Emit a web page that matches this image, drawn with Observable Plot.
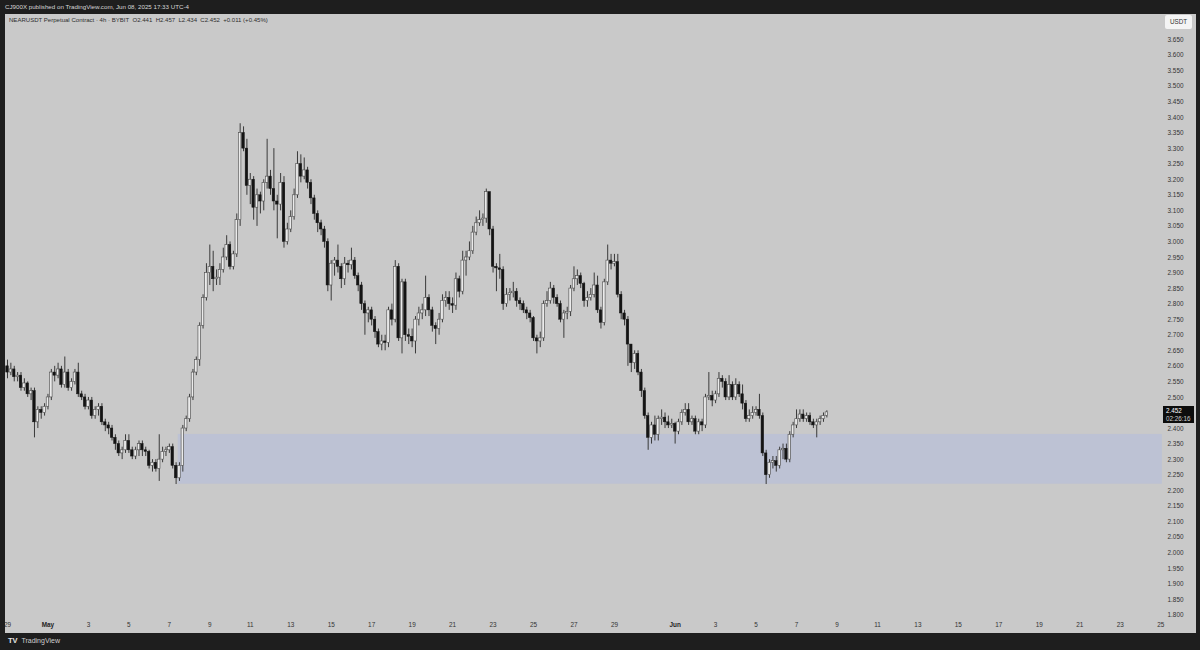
<!DOCTYPE html>
<html><head><meta charset="utf-8">
<script src="https://cdn.jsdelivr.net/npm/d3@7"></script>
<script src="https://cdn.jsdelivr.net/npm/@observablehq/plot@0.6"></script>
<style>
html,body{margin:0;padding:0;background:#1e1e1e;}
#wrap{position:relative;width:1200px;height:650px;background:#1e1e1e;overflow:hidden;font-family:"Liberation Sans",Arial,sans-serif;}
#top{position:absolute;left:5px;top:2.5px;color:#d6d6d6;font-size:6.2px;white-space:nowrap;}
#panel{position:absolute;left:5px;top:14px;width:1191px;height:619px;background:#c9c9c9;overflow:hidden;}
#legend{position:absolute;left:4px;top:3px;color:#2e2e2e;font-size:6.05px;white-space:nowrap;}
#usdt{position:absolute;left:1160px;top:1px;width:27px;height:14px;background:#f4f4f4;border-radius:2px;color:#333;font-size:6.3px;line-height:14px;text-align:center;}
#price{position:absolute;left:1158px;width:31px;height:17px;background:#0d0d0d;color:#fff;font-size:6.3px;line-height:7.5px;padding-left:3px;box-sizing:border-box;padding-top:1px;}
#price span{color:#cfcfcf;}
#brand{position:absolute;left:8px;top:636px;color:#cfcfcf;font-size:7px;white-space:nowrap;}
#brand b{font-size:7.5px;color:#e6e6e6;margin-right:2px;}
</style></head><body>
<div id="wrap">
  <div id="top">CJ900X published on TradingView.com, Jun 08, 2025 17:33 UTC-4</div>
  <div id="panel">
    <div id="chart"></div>
    <div id="legend">NEARUSDT Perpetual Contract · 4h · BYBIT &nbsp;O2.441 &nbsp;H2.457 &nbsp;L2.434 &nbsp;C2.452 &nbsp;+0.011 (+0.45%)</div>
    <div id="usdt">USDT</div>
    <div id="price"></div>
  </div>
  <div id="brand"><b>TV</b> TradingView</div>
</div>
<script>
// ---- data: NEARUSDT 4h candles, first bar 2025-04-29 00:00 ----
const firstBar = "2025-04-29T00:00Z";
const barHours = 4;
const opens = [2.60,2.58,2.59,2.565,2.57,2.53,2.545,2.51,2.52,2.42,
2.46,2.45,2.47,2.50,2.58,2.57,2.59,2.54,2.58,2.53,
2.55,2.58,2.51,2.50,2.47,2.49,2.44,2.46,2.47,2.42,
2.41,2.40,2.37,2.35,2.32,2.33,2.36,2.33,2.31,2.33,
2.35,2.33,2.325,2.28,2.29,2.27,2.30,2.325,2.33,2.34,
2.28,2.24,2.28,2.40,2.43,2.50,2.58,2.62,2.73,2.82,
2.90,2.92,2.88,2.885,2.91,2.95,2.99,2.92,2.96,3.07,
3.35,3.30,3.18,3.20,3.11,3.15,3.13,3.19,3.21,3.17,
3.13,3.12,3.19,3.00,3.04,3.08,3.15,3.25,3.21,3.23,
3.19,3.14,3.09,3.06,3.04,3.00,2.86,2.93,2.94,2.92,
2.88,2.93,2.925,2.94,2.89,2.86,2.80,2.77,2.78,2.75,
2.71,2.67,2.68,2.675,2.78,2.75,2.92,2.69,2.87,2.70,
2.695,2.68,2.75,2.77,2.78,2.82,2.78,2.73,2.72,2.75,
2.81,2.82,2.80,2.795,2.88,2.84,2.94,2.95,2.97,3.03,
3.06,3.07,3.075,3.16,3.04,2.92,2.915,2.91,2.80,2.83,
2.835,2.84,2.81,2.80,2.78,2.77,2.755,2.69,2.68,2.69,
2.80,2.81,2.85,2.82,2.80,2.75,2.77,2.775,2.85,2.88,
2.89,2.865,2.81,2.82,2.83,2.86,2.78,2.74,2.87,2.94,
2.93,2.935,2.83,2.77,2.75,2.67,2.61,2.64,2.58,2.52,
2.44,2.37,2.41,2.38,2.43,2.435,2.42,2.41,2.415,2.39,
2.42,2.45,2.46,2.42,2.43,2.39,2.42,2.41,2.50,2.505,
2.49,2.51,2.56,2.55,2.50,2.54,2.50,2.54,2.51,2.48,
2.43,2.44,2.45,2.46,2.44,2.32,2.25,2.29,2.295,2.28,
2.33,2.335,2.30,2.38,2.41,2.43,2.445,2.43,2.44,2.42,
2.41,2.42,2.43,2.441];
const highs = [2.62,2.61,2.60,2.58,2.58,2.56,2.55,2.53,2.53,2.47,
2.47,2.48,2.51,2.59,2.60,2.61,2.60,2.63,2.59,2.56,
2.59,2.61,2.52,2.51,2.50,2.50,2.47,2.48,2.48,2.43,
2.42,2.41,2.38,2.36,2.34,2.38,2.38,2.34,2.34,2.36,
2.36,2.34,2.33,2.30,2.30,2.38,2.34,2.34,2.35,2.35,
2.29,2.29,2.41,2.44,2.51,2.59,2.63,2.74,2.83,2.93,
2.99,2.97,2.91,2.93,2.98,3.02,3.00,2.97,3.09,3.38,
3.37,3.33,3.22,3.21,3.17,3.16,3.20,3.33,3.23,3.30,
3.15,3.22,3.21,3.06,3.10,3.17,3.29,3.28,3.27,3.24,
3.20,3.15,3.10,3.07,3.05,3.01,2.94,2.95,2.99,2.93,
2.95,2.94,2.98,2.95,2.90,2.87,2.81,2.79,2.79,2.76,
2.72,2.70,2.70,2.79,2.80,2.94,2.93,2.88,2.88,2.72,
2.72,2.76,2.79,2.80,2.89,2.83,2.79,2.74,2.77,2.83,
2.84,2.84,2.82,2.90,2.89,2.97,2.97,3.00,3.05,3.08,
3.10,3.09,3.17,3.16,3.05,2.93,2.96,2.92,2.85,2.85,
2.87,2.85,2.82,2.81,2.79,2.78,2.76,2.70,2.71,2.81,
2.84,2.87,2.86,2.83,2.81,2.78,2.79,2.86,2.92,2.91,
2.90,2.87,2.84,2.85,2.90,2.89,2.79,2.88,2.99,2.96,
2.96,2.96,2.84,2.78,2.76,2.67,2.65,2.65,2.59,2.53,
2.45,2.42,2.44,2.44,2.46,2.45,2.44,2.43,2.42,2.43,
2.46,2.48,2.48,2.44,2.44,2.43,2.43,2.51,2.58,2.52,
2.52,2.58,2.57,2.56,2.57,2.55,2.56,2.55,2.54,2.49,
2.46,2.47,2.47,2.51,2.45,2.33,2.30,2.31,2.31,2.34,
2.35,2.35,2.39,2.42,2.46,2.46,2.46,2.45,2.45,2.43,
2.43,2.44,2.45,2.457];
const lows = [2.56,2.57,2.55,2.55,2.52,2.52,2.50,2.49,2.37,2.40,
2.43,2.44,2.46,2.49,2.55,2.56,2.53,2.53,2.52,2.52,
2.54,2.50,2.49,2.46,2.46,2.43,2.43,2.44,2.41,2.39,
2.38,2.36,2.33,2.31,2.30,2.32,2.32,2.30,2.30,2.31,
2.31,2.31,2.27,2.26,2.26,2.23,2.29,2.31,2.32,2.27,
2.22,2.23,2.26,2.39,2.42,2.49,2.57,2.60,2.72,2.81,
2.86,2.84,2.86,2.86,2.90,2.94,2.91,2.91,2.95,3.05,
3.29,3.15,3.12,3.07,3.05,3.09,3.10,3.17,3.15,3.10,
3.01,3.10,2.98,2.99,3.03,3.07,3.14,3.19,3.20,3.17,
3.12,3.07,3.03,3.02,2.98,2.84,2.81,2.89,2.90,2.85,
2.86,2.90,2.91,2.88,2.84,2.78,2.70,2.74,2.73,2.69,
2.66,2.65,2.65,2.66,2.73,2.74,2.68,2.64,2.68,2.67,
2.66,2.64,2.73,2.75,2.76,2.76,2.71,2.67,2.70,2.74,
2.79,2.78,2.77,2.78,2.82,2.83,2.89,2.94,2.96,3.02,
3.05,3.05,3.06,3.02,2.90,2.84,2.88,2.78,2.79,2.81,
2.82,2.79,2.78,2.77,2.75,2.74,2.68,2.64,2.66,2.68,
2.79,2.80,2.80,2.79,2.74,2.69,2.75,2.76,2.84,2.86,
2.85,2.79,2.79,2.81,2.82,2.77,2.72,2.73,2.86,2.91,
2.92,2.82,2.75,2.73,2.60,2.58,2.59,2.57,2.50,2.43,
2.33,2.35,2.36,2.36,2.41,2.40,2.40,2.40,2.35,2.38,
2.41,2.44,2.41,2.41,2.38,2.38,2.39,2.40,2.49,2.47,
2.48,2.50,2.53,2.49,2.49,2.49,2.49,2.50,2.46,2.42,
2.42,2.43,2.44,2.43,2.31,2.22,2.24,2.27,2.26,2.27,
2.30,2.29,2.29,2.37,2.40,2.42,2.42,2.42,2.41,2.40,
2.37,2.41,2.42,2.434];
const closes = [2.58,2.59,2.565,2.57,2.53,2.545,2.51,2.52,2.42,2.46,
2.45,2.47,2.50,2.58,2.57,2.59,2.54,2.58,2.53,2.55,
2.58,2.51,2.50,2.47,2.49,2.44,2.46,2.47,2.42,2.41,
2.40,2.37,2.35,2.32,2.33,2.36,2.33,2.31,2.33,2.35,
2.33,2.325,2.28,2.29,2.27,2.30,2.325,2.33,2.34,2.28,
2.24,2.28,2.40,2.43,2.50,2.58,2.62,2.73,2.82,2.90,
2.92,2.88,2.885,2.91,2.95,2.99,2.92,2.96,3.07,3.35,
3.30,3.18,3.20,3.11,3.15,3.13,3.19,3.21,3.17,3.13,
3.12,3.19,3.00,3.04,3.08,3.15,3.25,3.21,3.23,3.19,
3.14,3.09,3.06,3.04,3.00,2.86,2.93,2.94,2.92,2.88,
2.93,2.925,2.94,2.89,2.86,2.80,2.77,2.78,2.75,2.71,
2.67,2.68,2.675,2.78,2.75,2.92,2.69,2.87,2.70,2.695,
2.68,2.75,2.77,2.78,2.82,2.78,2.73,2.72,2.75,2.81,
2.82,2.80,2.795,2.88,2.84,2.94,2.95,2.97,3.03,3.06,
3.07,3.075,3.16,3.04,2.92,2.915,2.91,2.80,2.83,2.835,
2.84,2.81,2.80,2.78,2.77,2.755,2.69,2.68,2.69,2.80,
2.81,2.85,2.82,2.80,2.75,2.77,2.775,2.85,2.88,2.89,
2.865,2.81,2.82,2.83,2.86,2.78,2.74,2.87,2.94,2.93,
2.935,2.83,2.77,2.75,2.67,2.61,2.64,2.58,2.52,2.44,
2.37,2.41,2.38,2.43,2.435,2.42,2.41,2.415,2.39,2.42,
2.45,2.46,2.42,2.43,2.39,2.42,2.41,2.50,2.505,2.49,
2.51,2.56,2.55,2.50,2.54,2.50,2.54,2.51,2.48,2.43,
2.44,2.45,2.46,2.44,2.32,2.25,2.29,2.295,2.28,2.33,
2.335,2.30,2.38,2.41,2.43,2.445,2.43,2.44,2.42,2.41,
2.42,2.43,2.44,2.452];

// highlighted demand zone
const zoneStart = ["2025-05-07T10:30Z"];
const zoneEnd = ["2025-06-25T02:00Z"];
const zoneLow = [2.221];
const zoneHigh = [2.381];

// last price label
const lastPrice = 2.452;
const lastPriceText = "2.452";
const countdownText = "02:26:16";

// axis tick labels
const yTickLabels = ["3.650","3.600","3.550","3.500","3.450","3.400","3.350","3.300","3.250","3.200","3.150","3.100","3.050","3.000","2.950","2.900","2.850","2.800","2.750","2.700","2.650","2.600","2.550","2.500","2.450","2.400","2.350","2.300","2.250","2.200","2.150","2.100","2.050","2.000","1.950","1.900","1.850","1.800"];
const xTickDates = ["2025-04-29","2025-05-01","2025-05-03","2025-05-05","2025-05-07","2025-05-09","2025-05-11","2025-05-13","2025-05-15","2025-05-17","2025-05-19","2025-05-21","2025-05-23","2025-05-25","2025-05-27","2025-05-29","2025-06-01","2025-06-03","2025-06-05","2025-06-07","2025-06-09","2025-06-11","2025-06-13","2025-06-15","2025-06-17","2025-06-19","2025-06-21","2025-06-23","2025-06-25"];
const xTickLabels = ["29","May","3","5","7","9","11","13","15","17","19","21","23","25","27","29","Jun","3","5","7","9","11","13","15","17","19","21","23","25"];
const monthLabels = ["May","Jun"];

// ---- build ----
const t0 = new Date(firstBar).getTime();
const hourMs = 3600e3, dayMs = 86400e3;
const candles = closes.map((c, i) => ({
  date: new Date(t0 + i * barHours * hourMs),
  open: opens[i], high: highs[i], low: lows[i], close: c
}));
const ups = candles.filter(d => d.close >= d.open);
const downs = candles.filter(d => d.close < d.open);
const zones = zoneStart.map((s, i) => ({start: new Date(s), end: new Date(zoneEnd[i]), low: zoneLow[i], high: zoneHigh[i]}));
const xTicks = xTickDates.map((d, i) => ({date: new Date(d + "T00:00Z"), label: xTickLabels[i]}));
const dayTicks = xTicks.filter(d => !monthLabels.includes(d.label));
const monTicks = xTicks.filter(d => monthLabels.includes(d.label));
const yTicks = yTickLabels.map(Number);
const halfBody = 1.48 * hourMs;

const W = 1191, H = 619;
const chart = Plot.plot({
  width: W, height: H,
  marginLeft: 0, marginRight: 34, marginTop: 0, marginBottom: 15,
  style: {background: "transparent", fontFamily: "'Liberation Sans', Arial, sans-serif", fontSize: "6.4px", color: "#333", overflow: "visible"},
  x: {type: "utc", domain: [new Date(t0 - 0.099 * dayMs), new Date(t0 + 57.09 * dayMs)], axis: null},
  y: {domain: [1.7892, 3.7313], axis: null},
  marks: [
    Plot.rect(zones, {x1: "start", x2: "end", y1: "low", y2: "high", fill: "#bdc2d4", clip: true}),
    Plot.ruleX(candles, {x: "date", y1: "low", y2: "high", stroke: "#3a3a3a", strokeWidth: 1}),
    Plot.rect(ups, {x1: d => new Date(+d.date - halfBody), x2: d => new Date(+d.date + halfBody), y1: "open", y2: "close", fill: "#ebebeb", stroke: "#4a4a4a", strokeWidth: 0.6}),
    Plot.rect(downs, {x1: d => new Date(+d.date - halfBody), x2: d => new Date(+d.date + halfBody), y1: "open", y2: "close", fill: "#141414", stroke: "#141414", strokeWidth: 0.5}),
    Plot.axisY({anchor: "right", ticks: yTicks, tickFormat: d => yTickLabels[yTicks.indexOf(d)], tickSize: 0, tickPadding: 5, fontSize: 6.4, fill: "#333"}),
    Plot.text(dayTicks, {x: "date", text: "label", frameAnchor: "bottom", dy: 8, fill: "#333", fontSize: 6.4}),
    Plot.text(monTicks, {x: "date", text: "label", frameAnchor: "bottom", dy: 8, fill: "#222", fontSize: 6.4, fontWeight: "bold"})
  ]
});
document.getElementById("chart").appendChild(chart);

const yPx = chart.scale("y").apply(lastPrice);
const pl = document.getElementById("price");
pl.style.top = (yPx - 5.5) + "px";
pl.innerHTML = lastPriceText + "<br><span>" + countdownText + "</span>";
</script>
</body></html>
